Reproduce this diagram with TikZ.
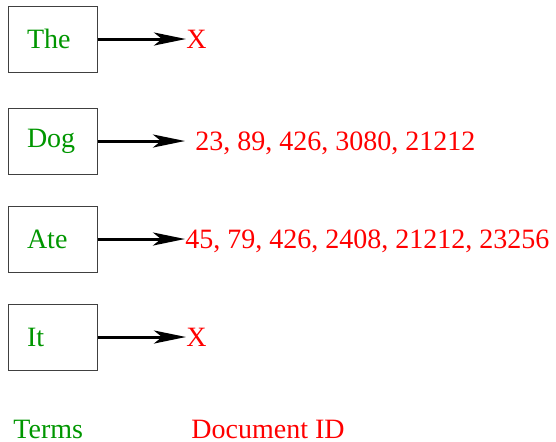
\documentclass[tikz,border=0pt]{standalone}
\usepackage{fontspec}
\setmainfont{Liberation Serif}
\usetikzlibrary{arrows.meta}
\definecolor{termgreen}{RGB}{0,150,0}
\definecolor{idred}{RGB}{255,0,0}

\begin{document}
\begin{tikzpicture}[x=0.5pt,y=-0.5pt,
  every node/.style={font=\rmfamily\fontsize{14}{17}\selectfont},
  term/.style={draw=black!75, line width=0.5pt, minimum width=44.5pt, minimum height=33pt,
    text width=25.5pt, align=left, inner xsep=9.5pt, inner ysep=0pt, text=termgreen},
  ids/.style={anchor=west, inner sep=0pt, text height=9.5pt, text depth=0pt, text=idred},
  link/.style={-{Stealth[length=16pt,width=6.5pt,inset=4pt]}, line width=1.5pt}]
	\useasboundingbox (0,0) rectangle (556,441);

	% term boxes
	\node[term] (the) at (52.5,39) {The};
	\node[term] (dog) at (52.5,141) {Dog};
	\node[term] (ate) at (52.5,239) {Ate};
	\node[term] (it) at (52.5,337) {It};

	% posting lists
	\node[ids] (theids) at (186,39) {X};
	\node[ids] (dogids) at (195,141) {23, 89, 426, 3080, 21212};
	\node[ids] (ateids) at (185,239) {45, 79, 426, 2408, 21212, 23256};
	\node[ids] (itids) at (186,337) {X};

	\draw[link] (the) -- (theids);
	\draw[link, shorten >=5pt] (dog) -- (dogids);
	\draw[link] (ate) -- (ateids);
	\draw[link] (it) -- (itids);

	\node[anchor=base west, inner sep=0pt, text=termgreen] (termlabel) at (13,438) {Terms};
	\node[anchor=base west, inner sep=0pt, text=idred] (idlabel) at (191,438) {Document ID};
\end{tikzpicture}
\end{document}
